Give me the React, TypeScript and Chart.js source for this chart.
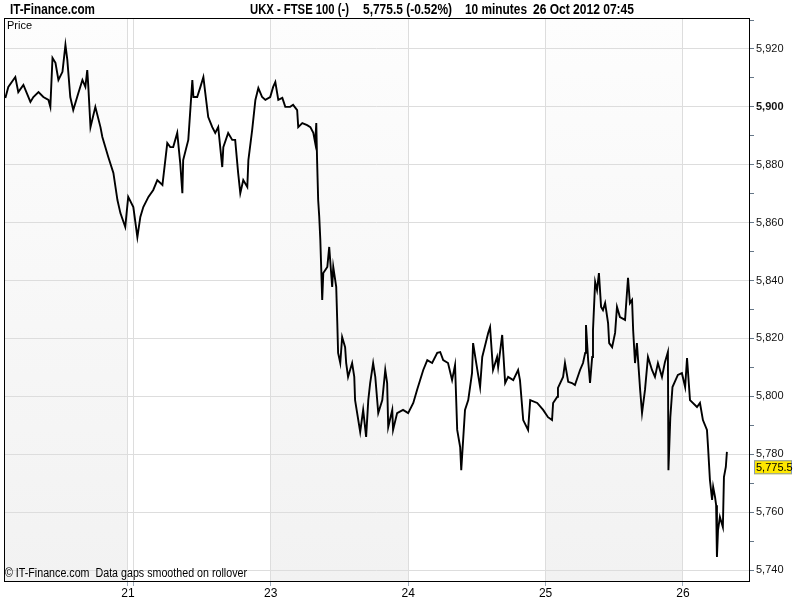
import { useEffect, useRef } from 'react';
import { Chart, registerables } from 'chart.js';

Chart.register(...registerables);

// 10-minute bars counted from 22 Oct 2012 session open
const barIndex = [
  -47.5, -46.4, -43.8, -42.7, -40.8, -38.2, -37.1, -35.2, -33.4, -31.5, -30.8, -30.0, -28.9, -27.8, -26.3, -25.2,
  -24.5, -23.4, -22.3, -20.4, -18.9, -17.8, -17.1, -16.7, -15.9, -14.1, -12.2, -11.5, -10.4, -9.3, -7.4, -5.9,
  -4.8, -3.0, -1.9, 0.0, 1.5, 2.6, 3.7, 5.6, 7.4, 8.9, 10.8, 12.6, 13.7, 14.8, 16.3, 17.4,
  18.2, 18.5, 20.4, 21.9, 22.3, 23.7, 24.9, 26.0, 26.7, 27.8, 29.3, 30.4, 31.5, 33.0, 33.4, 35.2,
  36.7, 37.8, 38.9, 39.7, 40.8, 42.3, 42.7, 44.1, 45.3, 46.4, 47.8, 49.0, 50.8, 51.9, 52.7, 53.8,
  55.3, 56.4, 58.2, 59.3, 60.8, 61.2, 62.7, 64.5, 65.7, 66.8, 67.5, 67.9, 68.2, 68.6, 69.0, 69.4,
  70.1, 70.5, 72.0, 72.7, 73.8, 74.2, 75.3, 75.7, 76.0, 76.8, 77.5, 78.6, 79.0, 79.7, 81.2, 82.0,
  82.3, 84.2, 85.3, 86.4, 87.2, 87.9, 89.0, 89.8, 90.9, 92.4, 93.5, 94.2, 94.6, 96.1, 96.4, 97.9,
  100.1, 102.0, 103.9, 105.3, 107.6, 109.1, 110.9, 112.8, 113.9, 115.0, 116.8, 118.3, 119.4, 120.2, 121.3, 121.7,
  123.1, 124.3, 125.7, 126.1, 126.9, 128.7, 129.5, 131.7, 132.4, 133.5, 135.0, 135.4, 136.9, 138.0, 139.1, 141.0,
  142.8, 143.5, 144.7, 146.5, 147.3, 149.9, 152.1, 153.9, 155.4, 155.8, 157.3, 157.6, 159.5, 160.2, 161.4, 162.8,
  163.9, 165.8, 166.9, 167.7, 168.0, 168.8, 169.5, 170.3, 170.6, 171.4, 172.1, 172.8, 173.6, 174.3, 175.1, 176.2,
  176.6, 177.7, 178.8, 179.5, 180.6, 182.5, 183.2, 183.6, 184.3, 185.1, 185.5, 186.2, 186.9, 188.1, 188.8, 189.9,
  191.0, 192.5, 193.6, 194.7, 196.2, 197.3, 198.4, 198.6, 199.3, 200.1, 202.1, 203.6, 204.8, 205.5, 206.6, 209.2,
  210.3, 211.4, 212.9, 213.3, 214.0, 214.8, 215.2, 215.9, 216.3, 216.6, 217.0, 217.7, 218.8, 219.2, 219.9, 220.3,
];

const price = [
  5903.1, 5906.9, 5910.3, 5905.1, 5907.6, 5901.7, 5903.4, 5905.1, 5903.4, 5902.4, 5900.0, 5916.9, 5915.2, 5909.3, 5912.1, 5921.4,
  5916.2, 5903.4, 5898.9, 5904.8, 5909.3, 5906.9, 5912.7, 5906.9, 5893.0, 5900.0, 5893.0, 5889.6, 5886.1, 5882.7, 5877.2, 5867.8,
  5863.3, 5858.5, 5868.9, 5865.4, 5855.0, 5862.0, 5865.4, 5868.9, 5871.3, 5874.7, 5873.0, 5887.5, 5886.1, 5886.1, 5891.0, 5880.6,
  5870.2, 5881.6, 5888.6, 5909.3, 5903.4, 5903.4, 5906.9, 5910.3, 5904.8, 5896.5, 5893.0, 5891.0, 5893.0, 5879.2, 5886.1, 5891.0,
  5888.6, 5888.6, 5877.2, 5870.2, 5874.7, 5872.3, 5881.6, 5892.0, 5902.4, 5906.5, 5903.4, 5902.4, 5903.4, 5906.9, 5908.6, 5902.4,
  5903.1, 5900.0, 5900.0, 5900.7, 5898.9, 5893.0, 5894.4, 5893.7, 5893.0, 5891.0, 5887.5, 5894.4, 5881.6, 5867.8, 5862.0, 5854.0,
  5833.3, 5842.6, 5844.7, 5851.6, 5837.8, 5844.7, 5837.8, 5825.3, 5815.0, 5811.5, 5820.5, 5817.0, 5811.5, 5806.7, 5811.5, 5806.7,
  5798.7, 5787.7, 5795.3, 5786.0, 5798.7, 5804.6, 5811.5, 5806.7, 5794.2, 5798.7, 5809.1, 5804.6, 5789.4, 5795.3, 5788.4, 5794.2,
  5795.3, 5794.2, 5797.7, 5802.2, 5809.1, 5812.5, 5811.5, 5815.0, 5815.3, 5812.5, 5811.5, 5805.6, 5810.8, 5788.4, 5782.5, 5774.5,
  5795.3, 5798.7, 5808.0, 5818.4, 5813.6, 5803.2, 5813.6, 5821.9, 5823.9, 5809.1, 5813.6, 5810.1, 5821.2, 5804.6, 5806.7, 5805.6,
  5809.1, 5805.6, 5791.8, 5788.4, 5798.7, 5797.7, 5795.3, 5792.8, 5791.8, 5797.7, 5799.8, 5802.9, 5806.7, 5811.5, 5805.0, 5804.6,
  5803.9, 5809.1, 5811.5, 5815.0, 5824.6, 5812.5, 5804.6, 5813.6, 5822.9, 5839.5, 5836.7, 5842.6, 5830.9, 5829.8, 5832.2, 5825.3,
  5818.4, 5817.0, 5821.9, 5830.9, 5827.4, 5826.4, 5835.7, 5840.9, 5832.2, 5833.3, 5822.9, 5811.5, 5818.4, 5802.2, 5794.2, 5802.2,
  5813.6, 5809.1, 5806.7, 5811.5, 5806.7, 5811.8, 5815.3, 5774.5, 5792.8, 5803.2, 5807.4, 5808.0, 5803.2, 5813.2, 5798.7, 5796.3,
  5797.7, 5791.8, 5788.4, 5782.5, 5771.1, 5764.2, 5768.7, 5765.2, 5762.4, 5744.5, 5753.8, 5758.3, 5754.8, 5772.1, 5775.6, 5780.8,
];

const dayLabels = ['21', '22', '23', '24', '25', '26'];
const dayStartBar = [-2, 0, 51, 102, 153, 204];
const hiddenDayLabels = ['22'];
// shaded sessions: [start bar, end bar] for 19, 23 and 25 Oct
const shadedSessions = [[-60, -2], [51, 102], [153, 204]];

const yTickValues = [
  5740, 5750, 5760, 5770, 5780, 5790, 5800, 5810, 5820, 5830,
  5840, 5850, 5860, 5870, 5880, 5890, 5900, 5910, 5920, 5930,
];
const boldTickValues = [5900];
const xRange = [-48, 228.5];
const yRange = [5736.2, 5930.7];

const lastPrice = 5775.5;
const siteName = 'IT-Finance.com';
const titleParts = ['UKX - FTSE 100 (-)', '5,775.5 (-0.52%)', '10 minutes', '26 Oct 2012 07:45'];
const axisName = 'Price';
const footNote = '\u00A9 IT-Finance.com  Data gaps smoothed on rollover';

const fmt = (v: number) => v.toLocaleString('en-US');

function fitText(ctx: CanvasRenderingContext2D, text: string, x: number, y: number, width: number, font: string, color: string) {
  ctx.save();
  ctx.font = font;
  ctx.fillStyle = color;
  ctx.textBaseline = 'middle';
  ctx.textAlign = 'left';
  const w = ctx.measureText(text).width;
  const s = w > 0 ? width / w : 1;
  ctx.translate(x, y);
  ctx.scale(s, 1);
  ctx.fillText(text, 0, 0);
  ctx.restore();
}

const decorPlugin = {
  id: 'decor',
  beforeDraw(chart: any) {
    const { ctx, chartArea: a, scales } = chart;
    ctx.save();
    ctx.fillStyle = '#ffffff';
    ctx.fillRect(0, 0, chart.width, chart.height);
    const g = ctx.createLinearGradient(0, a.top, 0, a.bottom);
    g.addColorStop(0, '#fdfdfd');
    g.addColorStop(1, '#f2f2f2');
    ctx.fillStyle = g;
    for (const [s, e] of shadedSessions) {
      const x0 = Math.max(a.left, scales.x.getPixelForValue(s));
      const x1 = Math.min(a.right, scales.x.getPixelForValue(e));
      if (x1 > x0) ctx.fillRect(x0, a.top, x1 - x0, a.bottom - a.top);
    }
    ctx.restore();
  },
  afterDraw(chart: any) {
    const { ctx, chartArea: a, scales } = chart;
    ctx.save();
    // frame
    ctx.strokeStyle = '#000000';
    ctx.lineWidth = 1;
    ctx.strokeRect(Math.round(a.left) + 0.5, Math.round(a.top) + 0.5, Math.round(a.right - a.left), Math.round(a.bottom - a.top));
    // header
    const hf = 'bold 14px "Liberation Sans Narrow", "Liberation Sans", Arial, sans-serif';
    fitText(ctx, siteName, 10, 10, 85, hf, '#000');
    fitText(ctx, titleParts[0], 250, 10, 99, hf, '#000');
    fitText(ctx, titleParts[1], 363, 10, 89, hf, '#000');
    fitText(ctx, titleParts[2], 465, 10, 62, hf, '#000');
    fitText(ctx, titleParts[3], 533, 10, 101, hf, '#000');
    // labels inside plot
    ctx.font = '11px "Liberation Sans", Arial, sans-serif';
    ctx.fillStyle = '#000';
    ctx.textBaseline = 'middle';
    ctx.fillText(axisName, a.left + 3, a.top + 8);
    fitText(ctx, footNote, a.left + 1, a.bottom - 7, 242, '12px "Liberation Sans", Arial, sans-serif', '#000');
    // last price tag
    const py = scales.y.getPixelForValue(lastPrice);
    ctx.fillStyle = '#ffe800';
    ctx.fillRect(a.right + 5, py - 7, 38, 14);
    ctx.strokeStyle = '#8a9ab0';
    ctx.strokeRect(a.right + 5.5, py - 6.5, 37, 13);
    ctx.font = '11px "Liberation Sans", Arial, sans-serif';
    ctx.fillStyle = '#000';
    ctx.textAlign = 'left';
    ctx.fillText(fmt(lastPrice), a.right + 7, py + 0.5);
    ctx.restore();
  },
};

export default function App() {
  const ref = useRef<HTMLCanvasElement>(null);
  useEffect(() => {
    if (!ref.current) return;
    const chart = new Chart(ref.current, {
      type: 'line',
      data: {
        datasets: [
          {
            data: barIndex.map((b, i) => ({ x: b, y: price[i] })),
            borderColor: '#000000',
            borderWidth: 1.9,
            pointRadius: 0,
            tension: 0,
            fill: false,
          },
        ],
      },
      options: {
        animation: false,
        responsive: false,
        devicePixelRatio: 1,
        layout: { padding: { left: 4, top: 18, right: 0, bottom: 0 } },
        plugins: { legend: { display: false }, tooltip: { enabled: false }, title: { display: false } },
        scales: {
          x: {
            type: 'linear',
            min: xRange[0],
            max: xRange[1],
            afterBuildTicks: (s: any) => {
              s.ticks = dayStartBar.map((v) => ({ value: v }));
            },
            afterFit: (s: any) => {
              s.height = 19;
            },
            border: { display: false },
            grid: { color: '#dddddd', lineWidth: 1, tickLength: 5, tickColor: '#a0adbc', drawTicks: true },
            ticks: {
              autoSkip: false,
              maxRotation: 0,
              padding: 0,
              color: '#000',
              font: { family: '"Liberation Sans", Arial, sans-serif', size: 12 },
              callback: (_v: any, i: number) => {
                const l = dayLabels[i];
                return hiddenDayLabels.includes(l) ? '' : l;
              },
            },
          },
          y: {
            type: 'linear',
            position: 'right',
            min: yRange[0],
            max: yRange[1],
            afterBuildTicks: (s: any) => {
              s.ticks = yTickValues.map((v) => ({ value: v }));
            },
            afterFit: (s: any) => {
              s.width = 51;
            },
            border: { display: false },
            grid: {
              color: (c: any) => (c.tick && c.tick.value % 20 === 0 ? '#dddddd' : 'rgba(0,0,0,0)'),
              tickLength: 5,
              tickColor: '#667788',
              drawTicks: true,
            },
            ticks: {
              padding: 2,
              color: '#111',
              font: (c: any) => ({
                family: '"Liberation Sans", Arial, sans-serif',
                size: 11,
                weight: c.tick && boldTickValues.includes(c.tick.value) ? 'bold' : 'normal',
              }),
              callback: (v: any) => (Number(v) % 20 === 0 ? fmt(Number(v)) : ''),
            },
          },
        },
      },
      plugins: [decorPlugin],
    } as any);
    return () => chart.destroy();
  }, []);
  return (
    <div style={{ position: 'absolute', left: 0, top: 0, width: 800, height: 600 }}>
      <canvas ref={ref} width={800} height={600} style={{ display: 'block' }} />
    </div>
  );
}
